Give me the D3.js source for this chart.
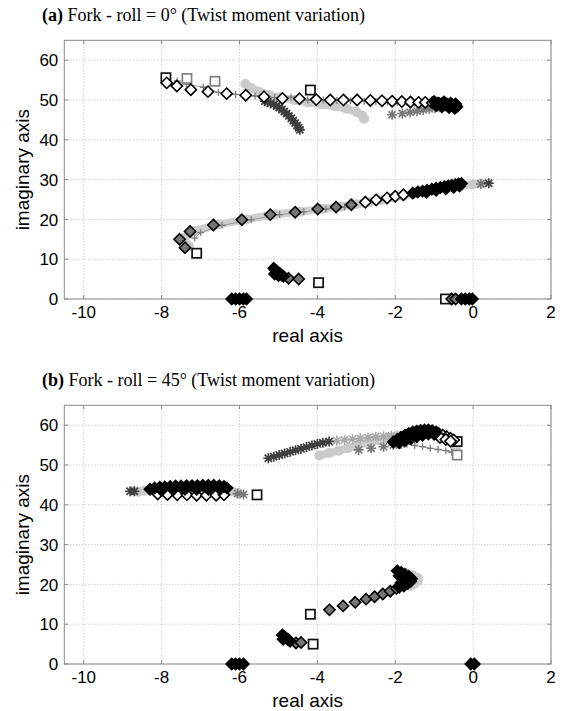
<!DOCTYPE html>
<html><head><meta charset="utf-8">
<script src="https://cdn.jsdelivr.net/npm/d3@7"></script>
<style>body{margin:0;background:#fff}svg{display:block}</style>
</head><body><svg id="c" width="562" height="711"></svg>
<script>
// ---------- data (real part, imaginary part) ----------
const xTicks = [-10,-8,-6,-4,-2,0,2];
const yTicks = [0,10,20,30,40,50,60];
const xDomain = [-10.5, 2];
const yDomain = [0, 65];

// Panel (a)
const aLight = [[-5.85,54.0],[-5.7,53.0],[-5.5,52.1],[-5.25,51.3],[-4.95,50.6],[-4.6,50.0],[-4.25,49.4],[-3.9,48.9],[-3.55,48.4],[-3.25,47.8],[-3.0,47.0],[-2.85,46.1],[-2.8,45.3]];
const aLightMid = [[-7.3,13.3],[-7.45,15.3],[-7.15,17.1],[-6.55,18.7],[-5.82,20.0],[-5.08,21.3],[-4.45,21.9],[-3.88,22.7],[-3.4,23.2],[-3.0,23.8],[-2.65,24.4],[-2.35,24.9],[-2.05,25.5],[-1.8,25.9],[-1.5,26.5],[-1.2,27.0],[-0.9,27.5],[-0.6,28.0],[-0.3,28.5],[0.0,28.8],[0.2,29.0]];
const aPlusTop = [[-7.6,54.8],[-7.37,54.0],[-6.93,53.2],[-6.54,51.9],[-6.1,51.4],[-5.6,51.0],[-5.1,50.6],[-4.68,50.7],[-4.25,50.0],[-3.85,50.0],[-3.5,49.9],[-3.15,49.8],[-2.8,49.7],[-2.5,49.6],[-2.2,49.5],[-1.95,49.4],[-1.7,49.3],[-1.5,49.2],[-1.3,49.1],[-1.15,49.0]];
const aPlusMid = [[-7.15,15.3],[-7.0,16.7],[-6.45,18.5],[-5.7,19.9],[-4.97,21.2],[-4.35,21.9],[-3.78,22.6],[-3.3,23.1]];
const aAstDark = [[-5.35,49.7],[-5.28,49.5],[-5.2,49.2],[-5.12,48.9],[-5.05,48.5],[-4.98,48.1],[-4.91,47.6],[-4.85,47.1],[-4.79,46.6],[-4.73,46.0],[-4.67,45.4],[-4.62,44.8],[-4.57,44.2],[-4.52,43.6],[-4.48,43.0],[-4.45,42.5],[0.40,29.1]];
const aAstGray = [[-2.08,46.3],[-1.82,46.6],[-1.62,46.9],[-1.44,47.2],[-1.28,47.5],[-1.13,47.8],[-0.98,48.0],[-0.85,48.2],[-0.72,48.4],[0.2,28.9]];
const aAstLight = [];
const aSqBlack = [[-7.89,55.6],[-4.18,52.5],[-7.1,11.5],[-3.97,4.1],[-0.71,0]];
const aSqGray = [[-7.35,55.4],[-6.63,54.7]];
const aDiamWhite = [[-7.87,54.3],[-7.61,53.5],[-7.25,52.6],[-6.81,52.1],[-6.33,51.6],[-5.84,51.2],[-5.37,50.8],[-4.90,50.4],[-4.46,50.3],[-4.03,50.1],[-3.67,50.0],[-3.33,50.0],[-2.98,50.0],[-2.64,49.9],[-2.34,49.8],[-2.08,49.7],[-1.83,49.6],[-1.61,49.5],[-1.40,49.4],[-1.23,49.4],[-1.05,49.3],[-0.93,49.2],[-0.80,49.1],[-0.67,49.0],[-0.54,48.9],[-0.46,48.8],
  [-2.77,24.3],[-2.49,24.9],[-2.21,25.4],[-2.0,25.8],[-1.79,26.2]];
const aDiamGray = [[-7.40,12.9],[-7.54,15.0],[-7.27,16.95],[-6.67,18.6],[-5.94,19.9],[-5.21,21.2],[-4.57,21.8],[-3.99,22.6],[-3.52,23.1],[-3.13,23.7],
  [-4.74,5.2],[-4.48,5.0],[-0.55,0],[-0.45,0]];
const aDiamBlack = [[-1.0,49.6],[-0.95,48.6],[-0.88,49.2],[-0.8,48.3],[-0.75,49.5],[-0.7,48.8],[-0.62,48.1],[-0.58,49.2],[-0.52,48.5],[-0.47,47.9],[-0.45,49.0],[-0.42,48.3],
  [-1.55,26.6],[-1.42,26.9],[-1.3,27.1],[-1.18,27.3],[-1.06,27.6],[-0.95,27.8],[-0.84,28.0],[-0.74,28.2],[-0.64,28.4],[-0.55,28.6],[-0.46,28.7],[-0.38,28.9],[-0.3,29.0],[-1.2,26.8],[-0.95,27.3],[-0.7,27.7],[-0.5,28.1],[-0.35,28.4],
  [-5.12,7.7],[-5.07,7.2],[-5.02,6.8],[-4.97,6.4],[-4.92,6.0],[-4.87,5.7],[-5.1,6.3],[-5.0,5.9],
  [-6.2,0],[-6.1,0],[-6.0,0],[-5.9,0],[-5.82,0],[-0.3,0],[-0.2,0],[-0.1,0],[-0.02,0]];

// Panel (b)
const bLight = [[-8.6,43.3],[-8.45,43.5],[-8.3,43.6],[-8.1,43.7],[-7.9,43.8],[-7.6,43.8],[-7.3,43.8],[-7.0,43.8],[-6.7,43.8],[-6.4,43.6],[-6.2,43.4],[-6.05,43.0]];
const bLightUp = [[-3.95,52.4],[-3.7,53.0],[-3.45,53.6],[-3.2,54.3],[-2.95,55.0],[-2.7,55.6],[-2.45,56.2],[-2.2,56.8],[-1.95,57.4],[-1.7,57.8],[-1.45,58.0],[-1.2,57.9],[-0.95,57.4],[-0.75,56.7],[-0.6,55.9],[-0.5,55.0],[-0.45,54.2]];
const bLightMid = [[-1.75,23.0],[-1.55,22.3],[-1.42,21.6],[-1.42,20.9],[-1.5,20.2],[-1.6,19.6]];
const bPlus = [[-1.7,55.2],[-1.5,54.9],[-1.3,54.6],[-1.1,54.2],[-0.9,53.9],[-0.7,53.6],[-0.55,53.2]];
const bAstDark = [[-8.81,43.4],[-8.7,43.4],[-5.26,51.7],[-5.12,52.1],[-4.98,52.5],[-4.84,52.9],[-4.7,53.3],[-4.56,53.7],[-4.42,54.1],[-4.28,54.5],[-4.14,54.9],[-4.0,55.3],[-3.86,55.6],[-3.7,55.9]];
const bAstGray = [[-5.9,42.6],[-6.05,42.8],[-2.94,53.8],[-2.62,54.2],[-2.30,54.6],[-2.05,55.0],[-1.85,55.3]];
const bAstLight = [[-3.5,56.1],[-3.3,56.3],[-3.1,56.5],[-2.9,56.7],[-2.7,56.9],[-2.5,57.1],[-2.3,57.2],[-2.1,57.4]];
const bSqBlack = [[-5.55,42.5],[-0.41,55.9],[-4.18,12.5],[-4.11,5.0]];
const bSqGray = [[-0.41,52.5]];
const bDiamWhite = [[-8.1,42.7],[-7.85,42.6],[-7.6,42.5],[-7.35,42.5],[-7.1,42.4],[-6.85,42.4],[-6.6,42.4],[-6.4,42.5],
  [-0.88,57.9],[-0.78,57.5],[-0.68,57.1],[-0.58,56.7],[-0.5,56.3],[-0.85,56.9],[-0.7,56.4],[-0.58,56.0]];
const bDiamGray = [[-3.69,13.6],[-3.34,14.6],[-3.03,15.5],[-2.75,16.3],[-2.53,16.9],[-2.32,17.6],[-2.13,18.3],[-1.97,19.0],[-4.55,5.3],[-4.42,5.4]];
const bDiamBlack = [[-8.3,43.9],[-8.18,44.2],[-8.05,44.4],[-7.92,44.5],[-7.78,44.6],[-7.64,44.7],[-7.5,44.7],[-7.36,44.8],[-7.22,44.8],[-7.08,44.8],[-6.94,44.9],[-6.8,44.9],[-6.66,44.9],[-6.52,44.8],[-6.4,44.6],[-6.32,44.2],[-8.0,43.6],[-7.7,43.8],[-7.4,43.9],[-7.1,43.9],[-6.8,43.9],[-6.5,43.9],
  [-2.05,55.8],[-1.95,56.4],[-1.85,57.0],[-1.75,57.5],[-1.65,57.9],[-1.55,58.3],[-1.45,58.5],[-1.35,58.7],[-1.25,58.8],[-1.15,58.8],[-1.05,58.6],[-0.95,58.3],[-1.9,55.6],[-1.75,56.1],[-1.6,56.6],[-1.45,57.1],[-1.3,57.5],[-1.15,57.8],[-1.0,57.7],
  [-1.95,23.4],[-1.85,23.0],[-1.75,22.5],[-1.65,22.0],[-1.58,21.4],[-1.6,20.8],[-1.68,20.2],[-1.78,19.6],[-1.9,19.3],[-1.9,22.2],[-1.8,21.6],[-1.72,21.0],[-1.85,20.4],
  [-4.9,7.3],[-4.85,6.9],[-4.8,6.5],[-4.75,6.1],[-4.7,5.7],[-4.88,6.2],
  [-6.2,0],[-6.1,0],[-6.0,0],[-5.9,0],[-0.06,0],[0.03,0]];

// ---------- drawing ----------
const svg = d3.select("#c");
const panels = [
  {label:"(a)", title:" Fork - roll = 0° (Twist moment variation)", top:40.3, bottom:299, titleY:21,
   light:[aLight,aLightMid], plus:[aPlusTop,aPlusMid], astDark:aAstDark, astGray:aAstGray, astLight:aAstLight,
   sqBlack:aSqBlack, sqGray:aSqGray, dW:aDiamWhite, dG:aDiamGray, dB:aDiamBlack},
  {label:"(b)", title:" Fork - roll = 45° (Twist moment variation)", top:405.3, bottom:664, titleY:386,
   light:[bLight,bLightUp,bLightMid], plus:[bPlus], astDark:bAstDark, astGray:bAstGray, astLight:bAstLight,
   sqBlack:bSqBlack, sqGray:bSqGray, dW:bDiamWhite, dG:bDiamGray, dB:bDiamBlack}
];
const L = 64.3, R = 551;
const x = d3.scaleLinear().domain(xDomain).range([L, R]);
const SANS = "Liberation Sans, Arial, Helvetica, sans-serif";

function diamond(h){ return `M0,${-h}L${h},0L0,${h}L${-h},0Z`; }
function asterisk(r){ const d=r*0.72; return `M${-r},0L${r},0M0,${-r}L0,${r}M${-d},${-d}L${d},${d}M${-d},${d}L${d},${-d}`; }
function plus(r){ return `M${-r},0L${r},0M0,${-r}L0,${r}`; }

panels.forEach(p => {
  const y = d3.scaleLinear().domain(yDomain).range([p.bottom, p.top]);
  const g = svg.append("g");
  // grid
  g.selectAll(".gx").data(xTicks).join("line")
    .attr("x1", d=>x(d)).attr("x2", d=>x(d)).attr("y1", p.top).attr("y2", p.bottom)
    .attr("stroke","#bdbdbd").attr("stroke-width",1).attr("stroke-dasharray","1,2");
  g.selectAll(".gy").data(yTicks).join("line")
    .attr("x1", L).attr("x2", R).attr("y1", d=>y(d)).attr("y2", d=>y(d))
    .attr("stroke","#bdbdbd").attr("stroke-width",1).attr("stroke-dasharray","1,2");
  // frame
  g.append("rect").attr("x",L).attr("y",p.top).attr("width",R-L).attr("height",p.bottom-p.top)
    .attr("fill","none").attr("stroke","#8a8a8a").attr("stroke-width",1);
  // ticks inward
  xTicks.forEach(t=>{
    g.append("line").attr("x1",x(t)).attr("x2",x(t)).attr("y1",p.bottom).attr("y2",p.bottom-4).attr("stroke","#8a8a8a");
    g.append("line").attr("x1",x(t)).attr("x2",x(t)).attr("y1",p.top).attr("y2",p.top+4).attr("stroke","#8a8a8a");
  });
  yTicks.forEach(t=>{
    g.append("line").attr("x1",L).attr("x2",L+4).attr("y1",y(t)).attr("y2",y(t)).attr("stroke","#8a8a8a");
    g.append("line").attr("x1",R).attr("x2",R-4).attr("y1",y(t)).attr("y2",y(t)).attr("stroke","#8a8a8a");
  });
  // tick labels
  g.selectAll(".tx").data(xTicks).join("text")
    .attr("x", d=>x(d)).attr("y", p.bottom+18.5).attr("text-anchor","middle")
    .attr("font-family",SANS).attr("font-size",17).text(d=>d);
  g.selectAll(".ty").data(yTicks).join("text")
    .attr("x", L-6).attr("y", d=>y(d)).attr("dy","0.36em").attr("text-anchor","end")
    .attr("font-family",SANS).attr("font-size",17).text(d=>d);
  // axis labels
  g.append("text").attr("x",(L+R)/2).attr("y",p.bottom+43).attr("text-anchor","middle")
    .attr("font-family",SANS).attr("font-size",19).text("real axis");
  g.append("text").attr("transform",`translate(29,${(p.top+p.bottom)/2}) rotate(-90)`).attr("text-anchor","middle")
    .attr("font-family",SANS).attr("font-size",19).text("imaginary axis");
  // title
  const tt = g.append("text").attr("x",42).attr("y",p.titleY)
    .attr("font-family","Liberation Serif, Times New Roman, serif").attr("font-size",18);
  tt.append("tspan").attr("font-weight","bold").text(p.label);
  tt.append("tspan").text(p.title);

  const line = d3.line().x(d=>x(d[0])).y(d=>y(d[1]));
  // light gray thick series
  p.light.forEach(arr=>{
    g.append("path").attr("d",line(arr)).attr("fill","none").attr("stroke","#cfcfcf").attr("stroke-width",8).attr("stroke-linejoin","round").attr("stroke-linecap","round");
    g.selectAll(null).data(arr).join("circle").attr("cx",d=>x(d[0])).attr("cy",d=>y(d[1])).attr("r",5).attr("fill","#cacaca");
  });
  // gray plus series
  p.plus.forEach(arr=>{
    g.append("path").attr("d",line(arr)).attr("fill","none").attr("stroke","#9a9a9a").attr("stroke-width",1);
    g.selectAll(null).data(arr).join("path").attr("transform",d=>`translate(${x(d[0])},${y(d[1])})`)
      .attr("d",plus(3.5)).attr("stroke","#7d7d7d").attr("stroke-width",1.3).attr("fill","none");
  });
  // asterisks
  g.selectAll(null).data(p.astLight).join("path").attr("transform",d=>`translate(${x(d[0])},${y(d[1])})`)
    .attr("d",asterisk(5)).attr("stroke","#a8a8a8").attr("stroke-width",1.6).attr("fill","none");
  g.selectAll(null).data(p.astGray).join("path").attr("transform",d=>`translate(${x(d[0])},${y(d[1])})`)
    .attr("d",asterisk(5)).attr("stroke","#777").attr("stroke-width",1.6).attr("fill","none");
  g.selectAll(null).data(p.astDark).join("path").attr("transform",d=>`translate(${x(d[0])},${y(d[1])})`)
    .attr("d",asterisk(5)).attr("stroke","#3e3e3e").attr("stroke-width",1.7).attr("fill","none");
  // squares
  const sq = 4.6;
  g.selectAll(null).data(p.sqGray).join("rect").attr("x",d=>x(d[0])-sq).attr("y",d=>y(d[1])-sq)
    .attr("width",2*sq).attr("height",2*sq).attr("fill","#fff").attr("stroke","#808080").attr("stroke-width",1.7);
  g.selectAll(null).data(p.sqBlack).join("rect").attr("x",d=>x(d[0])-sq).attr("y",d=>y(d[1])-sq)
    .attr("width",2*sq).attr("height",2*sq).attr("fill","#fff").attr("stroke","#111").attr("stroke-width",1.7);
  // diamonds
  const dh = 5.6;
  g.selectAll(null).data(p.dW).join("path").attr("transform",d=>`translate(${x(d[0])},${y(d[1])})`)
    .attr("d",diamond(dh)).attr("fill","#fff").attr("stroke","#000").attr("stroke-width",1.6);
  g.selectAll(null).data(p.dG).join("path").attr("transform",d=>`translate(${x(d[0])},${y(d[1])})`)
    .attr("d",diamond(dh)).attr("fill","#777").attr("stroke","#000").attr("stroke-width",1.6);
  g.selectAll(null).data(p.dB).join("path").attr("transform",d=>`translate(${x(d[0])},${y(d[1])})`)
    .attr("d",diamond(dh)).attr("fill","#000").attr("stroke","#000").attr("stroke-width",1.6);
});
</script></body></html>
